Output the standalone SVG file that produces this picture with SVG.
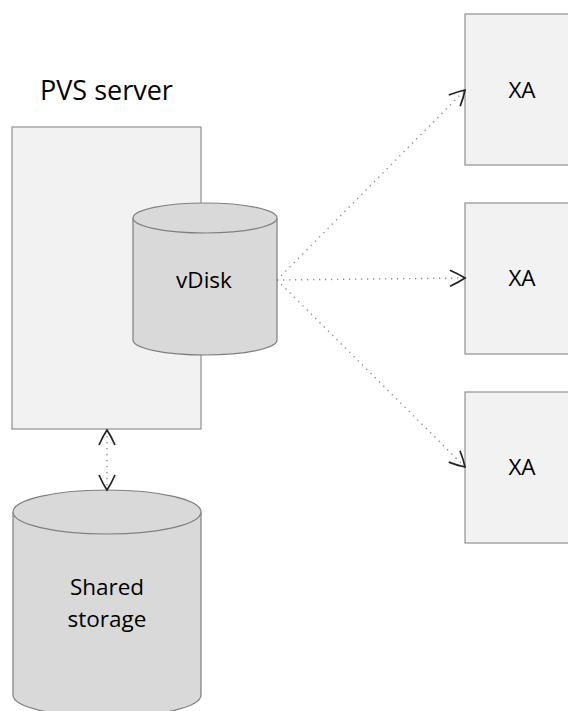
<svg xmlns="http://www.w3.org/2000/svg" width="568" height="711" viewBox="0 0 568 711">
<style>
.box{fill:#f2f2f2;stroke:#999999;stroke-width:1.3}
.cyl{fill:#d9d9d9;stroke:#7f7f7f;stroke-width:1.2}
.lbl{font-family:"Open Sans","Liberation Sans",sans-serif;font-size:22.5px;fill:#000;text-anchor:middle}
.title{font-family:"Open Sans","Liberation Sans",sans-serif;font-size:27px;fill:#000}
.conn{fill:none;stroke:#8c8c8c;stroke-width:1.4;stroke-dasharray:1.3 4.7}
</style>
<defs>
<marker id="arr" viewBox="-18 -10 20 20" markerWidth="20" markerHeight="20" refX="0" refY="0" orient="auto-start-reverse" markerUnits="userSpaceOnUse">
<path d="M -15 -8 Q -6 -4 0 0 Q -6 4 -15 8" fill="none" stroke="#222" stroke-width="1.7"/>
</marker>
</defs>
<text class="title" x="40" y="100">PVS server</text>
<g id="pvs-server">
<rect class="box" x="12" y="127" width="189" height="302"/>
</g>
<g id="vdisk">
<path class="cyl" d="M133 218 V340 A72 15 0 0 0 277 340 V218"/>
<ellipse class="cyl" cx="205" cy="218" rx="72" ry="15"/>
<text class="lbl" x="204" y="288">vDisk</text>
</g>
<g id="xa1">
<rect class="box" x="465" y="14" width="110" height="151"/>
<text class="lbl" x="522" y="98">XA</text>
</g>
<g id="xa2">
<rect class="box" x="465" y="203" width="110" height="151"/>
<text class="lbl" x="522" y="286">XA</text>
</g>
<g id="xa3">
<rect class="box" x="465" y="392" width="110" height="151"/>
<text class="lbl" x="522" y="475">XA</text>
</g>
<g id="shared-storage">
<path class="cyl" d="M13 512 V695 A94 22 0 0 0 201 695 V512"/>
<ellipse class="cyl" cx="107" cy="512" rx="94" ry="22"/>
<text class="lbl" x="107" y="595">Shared</text>
<text class="lbl" x="107" y="627">storage</text>
</g>
<g id="connectors">
<path class="conn" d="M277 280 L465 90" marker-end="url(#arr)"/>
<path class="conn" d="M277 280 L465 278" marker-end="url(#arr)"/>
<path class="conn" d="M277 280 L465 467" marker-end="url(#arr)"/>
<path class="conn" d="M107 430 L107 490" marker-start="url(#arr)" marker-end="url(#arr)"/>
</g>
</svg>
